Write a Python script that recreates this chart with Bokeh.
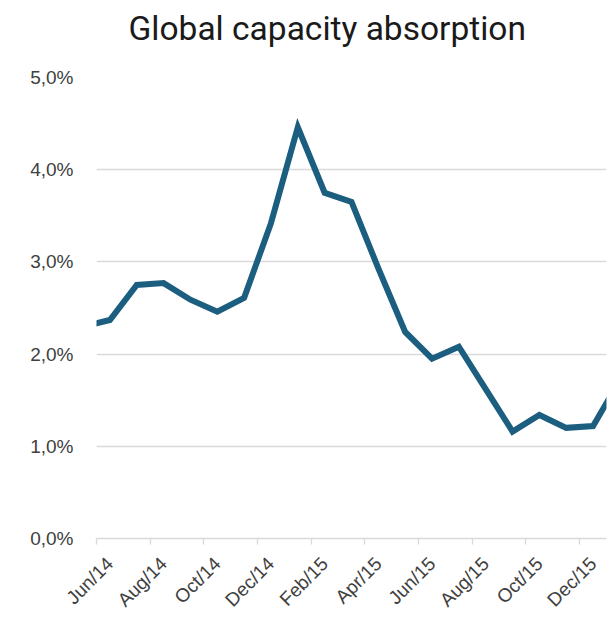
import math
from bokeh.plotting import figure
from bokeh.models import FixedTicker, Range1d, Title
from bokeh.embed import file_html
from bokeh.resources import INLINE

# Monthly global capacity absorption (%), one point per month (mid-month)
months = ["May/14", "Jun/14", "Jul/14", "Aug/14", "Sep/14", "Oct/14", "Nov/14",
          "Dec/14", "Jan/15", "Feb/15", "Mar/15", "Apr/15", "May/15", "Jun/15",
          "Jul/15", "Aug/15", "Sep/15", "Oct/15", "Nov/15", "Dec/15", "Jan/16"]
absorption = [2.30, 2.37, 2.75, 2.77, 2.59, 2.46, 2.61,
              3.42, 4.46, 3.75, 3.65, 2.93, 2.24, 1.95,
              2.08, 1.62, 1.16, 1.34, 1.20, 1.22, 1.72]

tick_labels = ["Jun/14", "Aug/14", "Oct/14", "Dec/14", "Feb/15",
               "Apr/15", "Jun/15", "Aug/15", "Oct/15", "Dec/15"]
y_ticks = [0, 1, 2, 3, 4, 5]

# x is measured in months from the start of Jun/14; points sit mid-month
start = months.index("Jun/14")
xs = [i - start + 0.5 for i in range(len(months))]
month_edges = [months.index(lbl) - start for lbl in tick_labels]
month_centres = [m + 0.5 for m in month_edges]

p = figure(width=611, height=620, output_backend="svg", toolbar_location=None,
           x_range=Range1d(0, 19), y_range=Range1d(0, 5),
           min_border_left=96, min_border_right=5,
           min_border_top=77, min_border_bottom=81)
p.title = None

p.line(xs, absorption, line_color="#1b5e80", line_width=6, line_join="miter")

p.outline_line_color = None
p.background_fill_color = "white"
p.border_fill_color = "white"

p.xgrid.grid_line_color = None
p.ygrid.grid_line_color = "#d9d9d9"
p.ygrid.grid_line_width = 1.3

p.yaxis.ticker = FixedTicker(ticks=y_ticks)
p.yaxis.major_label_overrides = {t: f"{t},0%" for t in y_ticks}
p.yaxis.axis_line_color = None
p.yaxis.major_tick_line_color = None
p.yaxis.major_tick_in = 0
p.yaxis.major_tick_out = 0
p.yaxis.minor_tick_line_color = None
p.yaxis.major_label_standoff = 23
p.yaxis.major_label_text_font = "Liberation Sans"
p.yaxis.major_label_text_font_size = "19px"
p.yaxis.major_label_text_color = "#404040"

# month labels sit mid-month, tick marks at the month boundaries
p.xaxis.ticker = FixedTicker(ticks=month_centres, minor_ticks=month_edges)
p.xaxis.major_label_overrides = dict(zip(month_centres, tick_labels))
p.xaxis.major_label_orientation = math.pi / 4
p.xaxis.axis_line_color = "#d9d9d9"
p.xaxis.axis_line_width = 1.3
p.xaxis.major_tick_line_color = None
p.xaxis.major_tick_in = 0
p.xaxis.major_tick_out = 0
p.xaxis.minor_tick_line_color = "#d9d9d9"
p.xaxis.minor_tick_line_width = 1.3
p.xaxis.minor_tick_in = 0
p.xaxis.minor_tick_out = 6
p.xaxis.major_label_standoff = 16
p.xaxis.major_label_text_font = "Liberation Sans"
p.xaxis.major_label_text_font_size = "19px"
p.xaxis.major_label_text_color = "#404040"

# spacer strip between the frame and the title lifts the title upward
p.add_layout(Title(text=" ", text_font_size="10px", standoff=17), "above")
p.add_layout(Title(text="Global capacity absorption", align="left", offset=32,
                   text_font="Roboto", text_font_size="33.5px",
                   text_font_style="normal", text_color="#1a1a1a",
                   standoff=0), "above")

open("out.html", "w").write(file_html(p, INLINE))
